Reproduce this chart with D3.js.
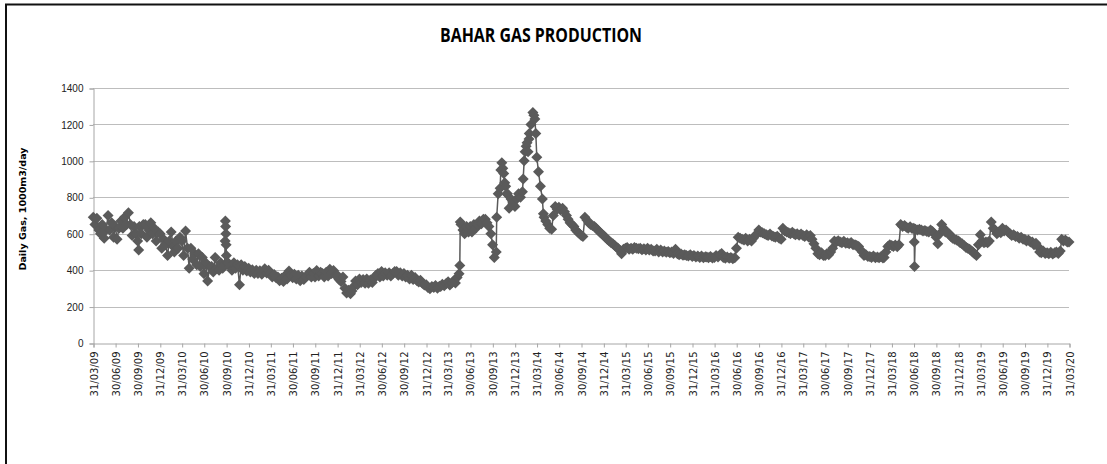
<!DOCTYPE html>
<html>
<head>
<meta charset="utf-8">
<script src="https://cdn.jsdelivr.net/npm/d3@7"></script>
<style>
  body { margin: 0; background: #fff; }
</style>
</head>
<body>
<script>
// Chart text
var chartTitle = "BAHAR GAS PRODUCTION";
var yAxisTitle = "Daily Gas, 1000m3/day";

// Y axis ticks
var yTicks = [0, 200, 400, 600, 800, 1000, 1200, 1400];

// X axis tick labels (quarter ends)
var xTickLabels = [
    "31/03/09", "30/06/09", "30/09/09", "31/12/09",
    "31/03/10", "30/06/10", "30/09/10", "31/12/10",
    "31/03/11", "30/06/11", "30/09/11", "31/12/11",
    "31/03/12", "30/06/12", "30/09/12", "31/12/12",
    "31/03/13", "30/06/13", "30/09/13", "31/12/13",
    "31/03/14", "30/06/14", "30/09/14", "31/12/14",
    "31/03/15", "30/06/15", "30/09/15", "31/12/15",
    "31/03/16", "30/06/16", "30/09/16", "31/12/16",
    "31/03/17", "30/06/17", "30/09/17", "31/12/17",
    "31/03/18", "30/06/18", "30/09/18", "31/12/18",
    "31/03/19", "30/06/19", "30/09/19", "31/12/19",
    "31/03/20"
];

// Days of the month at which the readings below were taken
var sampleDays = [1, 8, 16, 24];

// Daily gas (1000 m3/day): month, then one value per sample day
var monthlyGas = [
    ["2009-04",690,650,685,620],["2009-05",600,650,575,620],["2009-06",700,620,660,580],
    ["2009-07",640,570,630,670],["2009-08",630,690,650,715],["2009-09",650,590,640,600],
    ["2009-10",560,640,600,650],["2009-11",650,580,620,660],["2009-12",600,630,560,610],
    ["2010-01",600,520,570,540],["2010-02",480,560,610,530],["2010-03",500,560,520,580],
    ["2010-04",560,480,615,520],["2010-05",410,520,460,490],["2010-06",430,490,420,470],
    ["2010-07",380,440,340,420],["2010-08",420,390,470,410],["2010-09",400,440,410,430],
    ["2010-10",480,440,420,400],["2010-11",440,410,430,320],["2010-12",430,400,420,395],
    ["2011-01",410,390,402,382],["2011-02",400,382,396,378],["2011-03",392,408,384,400],
    ["2011-04",382,362,376,358],["2011-05",362,342,356,338],["2011-06",372,352,395,372],
    ["2011-07",358,378,352,372],["2011-08",342,368,348,362],["2011-09",372,388,362,382],
    ["2011-10",362,398,368,388],["2011-11",382,362,388,368],["2011-12",405,382,398,372],
    ["2012-01",372,348,338,362],["2012-02",300,275,290,270],["2012-03",285,310,340,320],
    ["2012-04",352,332,348,328],["2012-05",352,328,346,332],["2012-06",355,372,382,362],
    ["2012-07",392,368,386,372],["2012-08",386,368,380,392],["2012-09",392,372,386,368],
    ["2012-10",382,362,372,352],["2012-11",372,348,360,342],["2012-12",335,345,328,318],
    ["2013-01",320,305,298,310],["2013-02",305,316,300,312],["2013-03",310,322,314,326],
    ["2013-04",336,318,330,342],["2013-05",330,360,380,650],["2013-06",620,600,640,610],
    ["2013-07",640,610,650,630],["2013-08",650,670,655,680],["2013-09",680,660,640,600],
    ["2013-10",540,470,500,820],["2013-11",850,990,930,860],["2013-12",820,740,790,760],
    ["2014-01",750,790,820,800],["2014-02",830,1000,1080,1050],["2014-03",1150,1200,1265,1230],
    ["2014-04",1020,940,860,790],["2014-05",690,670,650,630],["2014-06",625,700,750,735],
    ["2014-07",745,730,740,720],["2014-08",700,680,660,650],["2014-09",640,620,610,600],
    ["2014-10",590,585,690,675],["2014-11",660,650,645,640],["2014-12",630,620,610,600],
    ["2015-01",590,580,570,560],["2015-02",550,545,535,525],["2015-03",520,510,490,515],
    ["2015-04",520,525,515,520],["2015-05",515,525,520,518],["2015-06",520,512,518,510],
    ["2015-07",520,510,515,505],["2015-08",505,515,500,510],["2015-09",500,505,498,502],
    ["2015-10",495,500,492,515],["2015-11",490,485,488,482],["2015-12",485,480,478,484],
    ["2016-01",475,480,472,478],["2016-02",470,478,468,474],["2016-03",472,468,475,466],
    ["2016-04",470,480,472,485],["2016-05",492,470,465,472],["2016-06",465,470,462,468],
    ["2016-07",520,580,575,570],["2016-08",565,575,560,570],["2016-09",560,575,590,600],
    ["2016-10",620,610,605,600],["2016-11",595,590,598,588],["2016-12",585,580,586,575],
    ["2017-01",570,630,615,610],["2017-02",605,600,608,598],["2017-03",595,600,592,598],
    ["2017-04",590,585,594,582],["2017-05",590,570,545,520],["2017-06",490,485,495,480],
    ["2017-07",480,490,485,500],["2017-08",520,560,555,562],["2017-09",555,550,558,548],
    ["2017-10",550,545,552,540],["2017-11",540,535,530,510],["2017-12",500,480,485,475],
    ["2018-01",475,470,478,468],["2018-02",472,468,474,466],["2018-03",470,500,530,540],
    ["2018-04",535,530,538,528],["2018-05",540,650,640,645],["2018-06",635,630,638,628],
    ["2018-07",630,625,620,625],["2018-08",620,615,618,612],["2018-09",610,620,612,600],
    ["2018-10",580,545,600,650],["2018-11",630,610,605,600],["2018-12",585,575,570,565],
    ["2019-01",560,550,545,535],["2019-02",525,520,515,505],["2019-03",500,490,480,540],
    ["2019-04",595,560,550,555],["2019-05",550,560,665,630],["2019-06",620,600,610,605],
    ["2019-07",630,615,620,610],["2019-08",600,590,595,585],["2019-09",585,575,580,570],
    ["2019-10",570,560,565,555],["2019-11",555,540,548,530],["2019-12",500,495,505,492],
    ["2020-01",495,490,498,488],["2020-02",495,500,492,505],["2020-03",570,560,565,555]
];

// Extra readings at spikes and steps [date, value]
var extraGas = [
    ["2009-10-05",510],
    ["2010-09-26",560],["2010-09-27",670],["2010-09-28",640],["2010-09-29",600],["2010-09-30",540],
    ["2013-05-19",425],["2013-05-21",665],
    ["2013-10-18",690],
    ["2013-11-04",950],["2013-11-12",960],["2013-11-20",880],["2013-11-28",820],
    ["2014-02-04",900],["2014-02-12",1050],["2014-02-20",1100],["2014-02-28",1120],
    ["2014-03-20",1250],["2014-03-28",1150],["2014-04-28",710],
    ["2018-07-03",555],["2018-07-04",420],
    ["2020-03-31",555]
];

var w = 1107;
var h = 464;
var margin = {left: 93, right: 31, top: 88, bottom: 121};

var parseDay = d3.timeParse("%Y-%m-%d");
var parseTick = d3.timeParse("%d/%m/%y");

// Merge both tables into one date-ordered series
var data = [];
monthlyGas.forEach(function(row) {
    sampleDays.forEach(function(day, i) {
        data.push({date: parseDay(row[0] + "-" + (day < 10 ? "0" + day : day)), value: row[i + 1]});
    });
});
extraGas.forEach(function(d) {
    data.push({date: parseDay(d[0]), value: d[1]});
});
data.sort(function(a, b) { return a.date - b.date; });

var svg = d3.select("body")
            .append("svg")
            .attr("width", w)
            .attr("height", h);

// outer chart border (only top and left edges fall inside the picture)
svg.append("rect")
   .attr("x", 6)
   .attr("y", 4.5)
   .attr("width", w + 20)
   .attr("height", h + 20)
   .attr("fill", "none")
   .attr("stroke", "#111")
   .attr("stroke-width", 2);

var x = d3.scaleTime()
          .domain([parseTick(xTickLabels[0]), parseTick(xTickLabels[xTickLabels.length - 1])])
          .range([margin.left, w - margin.right - 7]);

var y = d3.scaleLinear()
          .domain([0, 1400])
          .range([h - margin.bottom, margin.top]);

// title
svg.append("text")
   .attr("x", 541)
   .attr("y", 42)
   .attr("text-anchor", "middle")
   .attr("font-family", "'Liberation Sans Narrow', 'Open Sans', sans-serif")
   .attr("font-weight", "bold")
   .attr("font-size", 20)
   .attr("textLength", 202)
   .attr("lengthAdjust", "spacingAndGlyphs")
   .attr("fill", "#000")
   .text(chartTitle);

// horizontal gridlines
svg.append("g")
   .selectAll("line")
   .data(yTicks.slice(1))
   .enter()
   .append("line")
   .attr("x1", x.range()[0])
   .attr("x2", x.range()[1])
   .attr("y1", d => Math.round(y(d)) + 0.5)
   .attr("y2", d => Math.round(y(d)) + 0.5)
   .attr("stroke", "#bdbdbd")
   .attr("stroke-width", 1);

// y axis
var yAxis = d3.axisLeft(y)
              .tickValues(yTicks)
              .tickSize(4)
              .tickPadding(6)
              .tickFormat(d3.format("d"));

var gy = svg.append("g")
            .attr("transform", "translate(" + (x.range()[0] + 0.5) + ",0.5)")
            .call(yAxis);
gy.select(".domain").attr("stroke", "#a6a6a6");
gy.selectAll(".tick line").attr("stroke", "#a6a6a6");
gy.selectAll(".tick text")
  .attr("font-family", "'Liberation Sans', Arial, sans-serif")
  .attr("font-size", 10)
  .attr("fill", "#222");

// x axis
var tickDates = xTickLabels.map(parseTick);
var xAxis = d3.axisBottom(x)
              .tickValues(tickDates)
              .tickSize(4)
              .tickFormat(d3.timeFormat("%d/%m/%y"));

var gx = svg.append("g")
            .attr("transform", "translate(0.5," + (Math.round(y(0)) + 0.5) + ")")
            .call(xAxis);
gx.select(".domain").attr("stroke", "#a6a6a6");
gx.selectAll(".tick line").attr("stroke", "#a6a6a6");
gx.selectAll(".tick text")
  .attr("font-family", "'DejaVu Sans', Verdana, sans-serif")
  .attr("font-size", 10)
  .attr("fill", "#222")
  .attr("text-anchor", "end")
  .attr("transform", "rotate(-90)")
  .attr("x", -8)
  .attr("y", 0)
  .attr("dy", "0.35em");

// y axis title
svg.append("text")
   .attr("transform", "translate(26,209) rotate(-90)")
   .attr("text-anchor", "middle")
   .attr("font-family", "'DejaVu Sans', Verdana, sans-serif")
   .attr("font-weight", "bold")
   .attr("font-size", 9)
   .attr("textLength", 123)
   .attr("lengthAdjust", "spacingAndGlyphs")
   .attr("fill", "#000")
   .text(yAxisTitle);

// series line
var line = d3.line()
             .x(d => x(d.date))
             .y(d => y(d.value));

svg.append("path")
   .datum(data)
   .attr("d", line)
   .attr("fill", "none")
   .attr("stroke", "#5a5a5a")
   .attr("stroke-width", 1.5);

// diamond markers
var r = 5.5;
svg.append("g")
   .selectAll("path")
   .data(data)
   .enter()
   .append("path")
   .attr("transform", d => "translate(" + x(d.date) + "," + y(d.value) + ")")
   .attr("d", "M0," + (-r) + "L" + r + ",0L0," + r + "L" + (-r) + ",0Z")
   .attr("fill", "#5a5a5a");
</script>
</body>
</html>
